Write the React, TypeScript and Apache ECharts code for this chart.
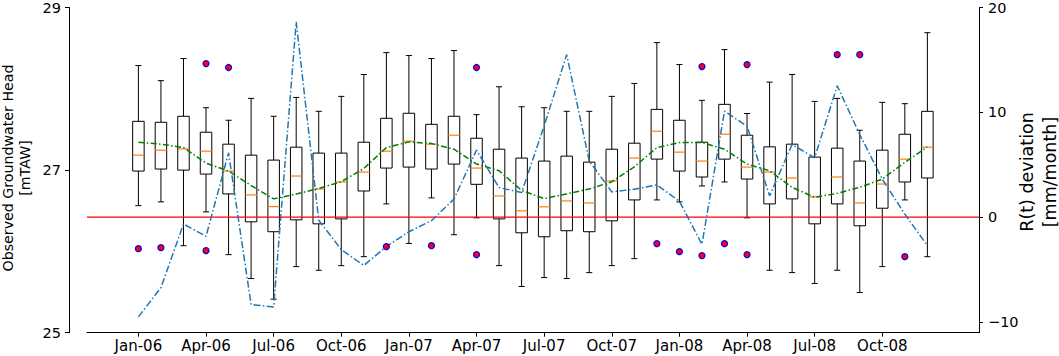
import React, { useEffect, useRef } from 'react';
import * as echarts from 'echarts';

const months = [
  'Jan-06', 'Feb-06', 'Mar-06', 'Apr-06', 'May-06', 'Jun-06', 'Jul-06', 'Aug-06', 'Sep-06', 'Oct-06', 'Nov-06', 'Dec-06',
  'Jan-07', 'Feb-07', 'Mar-07', 'Apr-07', 'May-07', 'Jun-07', 'Jul-07', 'Aug-07', 'Sep-07', 'Oct-07', 'Nov-07', 'Dec-07',
  'Jan-08', 'Feb-08', 'Mar-08', 'Apr-08', 'May-08', 'Jun-08', 'Jul-08', 'Aug-08', 'Sep-08', 'Oct-08', 'Nov-08', 'Dec-08',
];

const whiskerLow = [
  26.563, 26.609, 26.07, 26.486, 25.96, 25.666, 25.413, 25.813, 25.768, 25.825, 25.935, 26.584,
  26.098, 26.658, 26.205, 26.413, 25.825, 25.568, 25.678, 25.666, 25.739, 25.825, 25.911, 26.633,
  26.609, 26.805, 26.854, 26.413, 25.768, 25.739, 25.605, 25.768, 25.494, 25.813, 26.633, 25.935,
];
const q1 = [
  26.988, 27.013, 27.0, 26.951, 26.707, 26.364, 26.242, 26.388, 26.339, 26.4, 26.743, 27.025,
  27.037, 27.013, 27.074, 26.825, 26.4, 26.229, 26.18, 26.254, 26.242, 26.376, 26.633, 27.135,
  26.988, 26.915, 27.135, 26.89, 26.584, 26.646, 26.339, 26.584, 26.315, 26.531, 26.854, 26.903,
];
const median = [
  27.184, 27.245, 27.261, 27.233, 26.988, 26.695, 26.551, 26.927, 26.768, 26.854, 26.976, 27.233,
  27.356, 27.319, 27.429, 27.025, 26.682, 26.499, 26.548, 26.621, 26.596, 26.866, 27.148, 27.478,
  27.221, 27.111, 27.441, 27.037, 26.976, 26.902, 26.67, 26.915, 26.596, 26.829, 27.135, 27.282,
];
const q3 = [
  27.6, 27.588, 27.662, 27.466, 27.319, 27.184, 27.123, 27.282, 27.209, 27.209, 27.343, 27.637,
  27.699, 27.563, 27.662, 27.392, 27.257, 27.148, 27.111, 27.172, 27.098, 27.257, 27.331, 27.747,
  27.613, 27.343, 27.809, 27.429, 27.286, 27.319, 27.16, 27.27, 27.111, 27.245, 27.441, 27.723,
];
const whiskerHigh = [
  28.286, 28.1, 28.372, 27.767, 27.613, 27.882, 27.662, 27.894, 27.723, 27.907, 28.176, 28.445,
  28.409, 28.372, 28.47, 27.682, 28.025, 27.779, 27.767, 27.723, 27.723, 27.907, 28.066, 28.568,
  28.298, 27.858, 28.482, 27.696, 28.082, 28.176, 27.845, 27.882, 27.49, 27.833, 27.817, 28.69,
];

const outlierMonths = [
  'Jan-06', 'Feb-06', 'Apr-06', 'Apr-06', 'May-06', 'Dec-06', 'Feb-07', 'Apr-07', 'Apr-07', 'Dec-07',
  'Jan-08', 'Feb-08', 'Feb-08', 'Mar-08', 'Apr-08', 'Apr-08', 'Aug-08', 'Sep-08', 'Nov-08',
];
const outlierValues = [
  26.033, 26.046, 28.31, 26.009, 28.262, 26.058, 26.07, 28.262, 25.96, 26.095,
  25.997, 28.274, 25.948, 26.095, 28.298, 25.96, 28.42, 28.42, 25.935,
];

const smoothedHead = [
  27.343, 27.319, 27.277, 27.086, 26.988, 26.81, 26.646, 26.705, 26.775, 26.857, 27.02, 27.277,
  27.347, 27.327, 27.257, 27.074, 26.992, 26.75, 26.649, 26.707, 26.768, 26.857, 27.04, 27.277,
  27.339, 27.339, 27.257, 27.074, 26.992, 26.788, 26.665, 26.714, 26.788, 26.89, 27.094, 27.286,
];

const rechargeDeviation = [
  -9.53, -6.74, -0.67, -1.84, 6.13, -8.36, -8.58, 18.64, -0.3, -3.11, -4.62, -2.82,
  -1.4, -0.35, 1.71, 6.39, 2.81, 2.34, 8.7, 15.5, 5.35, 2.4, 2.66, 3.07,
  1.5, -2.6, 10.1, 8.67, 2.02, 6.93, 5.66, 12.53, 7.88, 3.61, 0.28, -2.73,
];

const referenceLevel = 0;

const tickLabels = ['Jan-06', 'Apr-06', 'Jul-06', 'Oct-06', 'Jan-07', 'Apr-07', 'Jul-07', 'Oct-07', 'Jan-08', 'Apr-08', 'Jul-08', 'Oct-08'];
const leftTicks = [25, 27, 29];
const rightTicks = [-10, 0, 10, 20];

const FONT = 'DejaVu Sans';

export default function App() {
  const ref = useRef<HTMLDivElement>(null);

  useEffect(() => {
    if (!ref.current) return;
    const chart = echarts.init(ref.current, null, { renderer: 'svg' });

    const xMin = -2.28;
    const xMax = 37.29;
    const boxData = months.map((_, i) => [i, whiskerLow[i], q1[i], median[i], q3[i], whiskerHigh[i]]);
    const outlierData = outlierMonths.map((m, k) => [months.indexOf(m), outlierValues[k]]);
    const smoothData = months.map((_, i) => [i, smoothedHead[i]]);
    const rData = months.map((_, i) => [i, rechargeDeviation[i]]);
    const zeroData = [[xMin, referenceLevel], [xMax, referenceLevel]];
    const tickPos = tickLabels.map((l) => months.indexOf(l));

    const boxWidth = 0.51;
    const capWidth = 0.27;

    const option: any = {
      animation: false,
      grid: { left: 87, right: 80, top: 6, bottom: 23.3, containLabel: false },
      xAxis: {
        type: 'value',
        min: xMin,
        max: xMax,
        splitLine: { show: false },
        axisLine: { show: true, onZero: false, lineStyle: { color: '#000', width: 1 } },
        axisTick: { show: true, customValues: tickPos, length: 4, lineStyle: { color: '#000' } },
        axisLabel: {
          show: true,
          customValues: tickPos,
          formatter: (v: number) => months[Math.round(v)] || '',
          fontSize: 15,
          fontFamily: FONT,
          color: '#000',
          margin: 6,
        },
      },
      yAxis: [
        {
          type: 'value',
          position: 'left',
          min: 25,
          max: 29,
          offset: 18,
          splitLine: { show: false },
          axisLine: { show: true, onZero: false, lineStyle: { color: '#000', width: 1 } },
          axisTick: { show: true, customValues: leftTicks, length: 4, lineStyle: { color: '#000' } },
          axisLabel: {
            show: true,
            customValues: leftTicks,
            fontSize: 14.5,
            fontFamily: FONT,
            color: '#000',
            margin: 8,
          },
        },
        {
          type: 'value',
          position: 'right',
          min: -11.04,
          max: 20,
          splitLine: { show: false },
          axisLine: { show: true, onZero: false, lineStyle: { color: '#000', width: 1 } },
          axisTick: { show: true, customValues: rightTicks, length: 4, lineStyle: { color: '#000' } },
          axisLabel: {
            show: true,
            customValues: rightTicks,
            formatter: (v: number) => String(v).replace('-', '\u2212'),
            fontSize: 14.5,
            fontFamily: FONT,
            color: '#000',
            margin: 9,
          },
        },
      ],
      graphic: [
        {
          type: 'text',
          x: 16.5,
          y: 168,
          rotation: Math.PI / 2,
          style: {
            text: 'Observed Groundwater Head\n[mTAW]',
            fontSize: 14.2,
            fontFamily: FONT,
            fill: '#000',
            align: 'center',
            verticalAlign: 'middle',
            lineHeight: 17,
          },
        },
        {
          type: 'text',
          x: 1038.5,
          y: 172,
          rotation: Math.PI / 2,
          style: {
            text: 'R(t) deviation\n[mm/month]',
            fontSize: 17.5,
            fontFamily: FONT,
            fill: '#000',
            align: 'center',
            verticalAlign: 'middle',
            lineHeight: 23,
          },
        },
      ],
      series: [
        {
          type: 'custom',
          xAxisIndex: 0,
          yAxisIndex: 0,
          z: 2,
          encode: { x: 0, y: [1, 2, 3, 4, 5] },
          data: boxData,
          renderItem: (params: any, api: any) => {
            const x = api.value(0);
            const pLow = api.coord([x, api.value(1)]);
            const pQ1 = api.coord([x, api.value(2)]);
            const pMed = api.coord([x, api.value(3)]);
            const pQ3 = api.coord([x, api.value(4)]);
            const pHigh = api.coord([x, api.value(5)]);
            const bw = api.size([boxWidth, 0])[0];
            const cw = api.size([capWidth, 0])[0];
            const cx = pMed[0];
            const black = { stroke: '#000', lineWidth: 1, fill: 'none' };
            return {
              type: 'group',
              children: [
                { type: 'line', shape: { x1: cx, y1: pQ3[1], x2: cx, y2: pHigh[1] }, style: black },
                { type: 'line', shape: { x1: cx, y1: pQ1[1], x2: cx, y2: pLow[1] }, style: black },
                { type: 'line', shape: { x1: cx - cw / 2, y1: pHigh[1], x2: cx + cw / 2, y2: pHigh[1] }, style: black },
                { type: 'line', shape: { x1: cx - cw / 2, y1: pLow[1], x2: cx + cw / 2, y2: pLow[1] }, style: black },
                {
                  type: 'rect',
                  shape: { x: cx - bw / 2, y: pQ3[1], width: bw, height: pQ1[1] - pQ3[1] },
                  style: black,
                },
                {
                  type: 'line',
                  shape: { x1: cx - bw / 2, y1: pMed[1], x2: cx + bw / 2, y2: pMed[1] },
                  style: { stroke: '#ff7f0e', lineWidth: 1.2 },
                },
              ],
            };
          },
        },
        {
          type: 'line',
          xAxisIndex: 0,
          yAxisIndex: 1,
          z: 3,
          data: zeroData,
          showSymbol: false,
          symbol: 'none',
          silent: true,
          lineStyle: { color: '#ff0000', width: 1.2, type: 'solid' },
        },
        {
          type: 'line',
          xAxisIndex: 0,
          yAxisIndex: 0,
          z: 4,
          data: smoothData,
          showSymbol: false,
          symbol: 'none',
          lineStyle: { color: 'green', width: 1.5, type: [6, 2.4, 1.5, 2.4] },
        },
        {
          type: 'line',
          xAxisIndex: 0,
          yAxisIndex: 1,
          z: 5,
          data: rData,
          showSymbol: false,
          symbol: 'none',
          lineStyle: { color: '#1f77b4', width: 1.5, type: [7, 2.4, 1.5, 2.4] },
        },
        {
          type: 'scatter',
          xAxisIndex: 0,
          yAxisIndex: 0,
          z: 6,
          data: outlierData,
          symbol: 'circle',
          symbolSize: 6,
          itemStyle: { color: 'red', borderColor: 'blue', borderWidth: 1.2, opacity: 1 },
        },
      ],
    };

    chart.setOption(option);
    return () => chart.dispose();
  }, []);

  return (
    <div
      ref={ref}
      style={{ position: 'absolute', left: 0, top: 0, width: 1059, height: 356, background: '#fff' }}
    />
  );
}
